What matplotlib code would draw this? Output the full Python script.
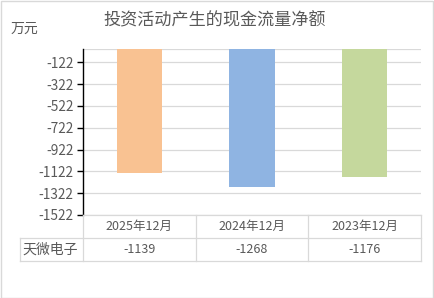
import numpy as np
import matplotlib
matplotlib.use('Agg')
import matplotlib.pyplot as plt
from matplotlib.patches import Rectangle

plt.rcParams['font.family'] = ['Noto Sans CJK SC', 'DejaVu Sans']

# data
categories = ['2025年12月', '2024年12月', '2023年12月']
values = [-1139, -1268, -1176]
series_name = '天微电子'
bar_colors = ['#F9C292', '#8FB4E2', '#C5D89D']
yticks = [-122, -322, -522, -722, -922, -1122, -1322, -1522]
title = '投资活动产生的现金流量净额'
unit = '万元'

W, H = 434, 298
fig = plt.figure(figsize=(W / 100, H / 100), dpi=100)
text_color = '#595959'
grid_color = '#D9D9D9'

# plot area in pixels
left, right, top, bottom = 83, 421, 49, 215
ax = fig.add_axes([left / W, 1 - bottom / H, (right - left) / W, (bottom - top) / H])

x = np.arange(len(categories))
ax.bar(x, values, width=0.4, color=bar_colors, zorder=3)
ax.set_xlim(-0.5, len(categories) - 0.5)
ax.set_ylim(-1522, 0)
ax.set_yticks(yticks)
ax.set_yticklabels([str(v) for v in yticks], fontsize=9.8, color=text_color)
ax.set_xticks([])
ax.yaxis.grid(True, color=grid_color, linewidth=0.9, zorder=0)
ax.axhline(0, color=grid_color, linewidth=0.9, zorder=0)
for s in ['top', 'right', 'bottom']:
    ax.spines[s].set_visible(False)
ax.spines['left'].set_color('black')
ax.spines['left'].set_linewidth(1.0)
ax.tick_params(axis='y', length=4, width=1.0, color='black', pad=3)

# data table below the axis
row_h = 23
tbl_left = 20
col_edges = [left + (right - left) * i / len(categories) for i in range(len(categories) + 1)]
y0, y1, y2 = bottom, bottom + row_h, bottom + 2 * row_h

def fx(px):
    return px / W

def fy(py):
    return 1 - py / H

lw = 0.9
# horizontal lines
fig.add_artist(plt.Line2D([fx(left), fx(right)], [fy(y0), fy(y0)], color=grid_color, lw=lw))
fig.add_artist(plt.Line2D([fx(tbl_left), fx(right)], [fy(y1), fy(y1)], color=grid_color, lw=lw))
fig.add_artist(plt.Line2D([fx(tbl_left), fx(right)], [fy(y2), fy(y2)], color=grid_color, lw=lw))
# vertical lines
fig.add_artist(plt.Line2D([fx(tbl_left), fx(tbl_left)], [fy(y1), fy(y2)], color=grid_color, lw=lw))
for i, cx in enumerate(col_edges):
    fig.add_artist(plt.Line2D([fx(cx), fx(cx)], [fy(y0), fy(y2)], color=grid_color, lw=lw))

for i, cat in enumerate(categories):
    cx = (col_edges[i] + col_edges[i + 1]) / 2
    fig.text(fx(cx), fy((y0 + y1) / 2), cat, ha='center', va='center', fontsize=9, color=text_color)
    fig.text(fx(cx), fy((y1 + y2) / 2), str(values[i]), ha='center', va='center', fontsize=9, color=text_color)
fig.text(fx(tbl_left + 2), fy((y1 + y2) / 2), series_name, ha='left', va='center', fontsize=10, color=text_color)

# title and unit
fig.text(fx(215), fy(20), title, ha='center', va='center', fontsize=12.3, color=text_color)
fig.text(fx(11), fy(29), unit, ha='left', va='center', fontsize=10, color=text_color)

# outer frame
fig.add_artist(Rectangle((0.5 / W, 0.5 / H), 1 - 1.5 / W, 1 - 1.5 / H, transform=fig.transFigure,
                         fill=False, edgecolor='#D9D9D9', lw=1.0))

fig.savefig('out.png', dpi=100)
